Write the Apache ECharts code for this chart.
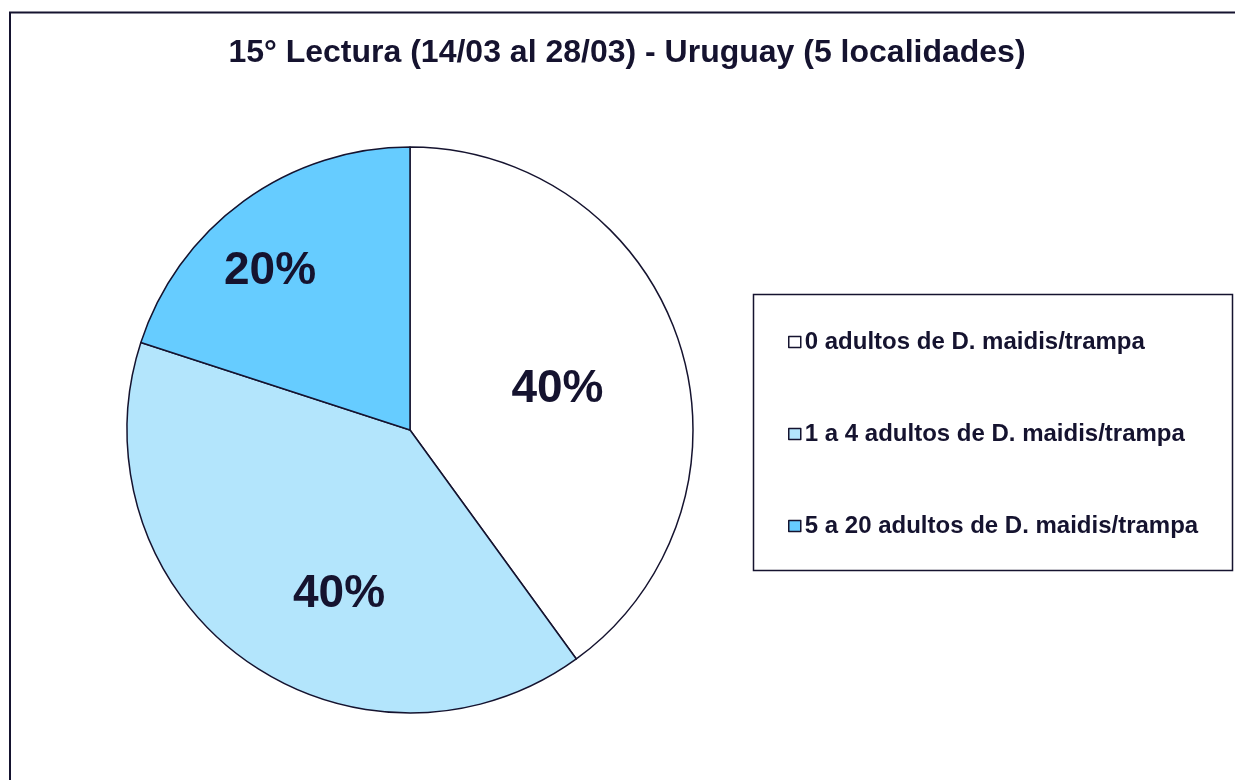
<!DOCTYPE html>
<html>
<head>
<meta charset="utf-8">
<script src="https://cdn.jsdelivr.net/npm/echarts@6/dist/echarts.min.js"></script>
<style>
  html, body { margin: 0; padding: 0; background: #fff; }
  #chart { width: 1235px; height: 780px; }
</style>
</head>
<body>
<div id="chart"></div>
<script>
  // data
  var categories = [
    '0 adultos de D. maidis/trampa',
    '1 a 4 adultos de D. maidis/trampa',
    '5 a 20 adultos de D. maidis/trampa'
  ];
  var shares = [40, 40, 20];
  var sliceColors = ['#ffffff', '#b3e5fc', '#66ccff'];
  // label nudges so they sit where the original put them
  var labelOffsets = [[10, 4], [14, 47], [-55, -42]];

  var ink = '#15132f';
  var font = '"Liberation Sans", Arial, sans-serif';

  var pieData = categories.map(function (name, i) {
    return {
      name: name,
      value: shares[i],
      itemStyle: { color: sliceColors[i] },
      label: { offset: labelOffsets[i] }
    };
  });

  var myChart = echarts.init(document.getElementById('chart'));
  myChart.setOption({
    animation: false,
    backgroundColor: '#fff',
    title: {
      text: '15° Lectura (14/03 al 28/03) - Uruguay (5 localidades)',
      left: 627,
      textAlign: 'center',
      top: 37,
      padding: 0,
      textStyle: {
        color: ink,
        fontFamily: font,
        fontWeight: 'bold',
        fontSize: 32
      }
    },
    graphic: [
      {
        type: 'rect',
        shape: { x: 10, y: 12.5, width: 1240, height: 800 },
        style: { fill: 'none', stroke: ink, lineWidth: 2 },
        z: 0
      },
      {
        type: 'rect',
        shape: { x: 753.5, y: 294.5, width: 479, height: 276 },
        style: { fill: '#fff', stroke: ink, lineWidth: 1.5 },
        z: 0
      }
    ],
    legend: {
      orient: 'vertical',
      left: 788,
      top: 330,
      padding: 0,
      itemWidth: 12,
      itemHeight: 11,
      itemGap: 68,
      icon: 'rect',
      data: categories,
      itemStyle: { borderColor: ink, borderWidth: 1.5 },
      textStyle: {
        color: ink,
        fontFamily: font,
        fontWeight: 'bold',
        fontSize: 24,
        lineHeight: 24,
        padding: [0, 0, 0, -1]
      },
      z: 5
    },
    series: [
      {
        type: 'pie',
        center: [410, 430],
        radius: 283,
        startAngle: 90,
        clockwise: true,
        silent: true,
        itemStyle: { borderColor: ink, borderWidth: 1.5 },
        label: {
          show: true,
          position: 'inside',
          formatter: '{c}%',
          color: ink,
          fontFamily: font,
          fontWeight: 'bold',
          fontSize: 46
        },
        labelLine: { show: false },
        emphasis: { disabled: true },
        data: pieData
      }
    ]
  });
</script>
</body>
</html>
